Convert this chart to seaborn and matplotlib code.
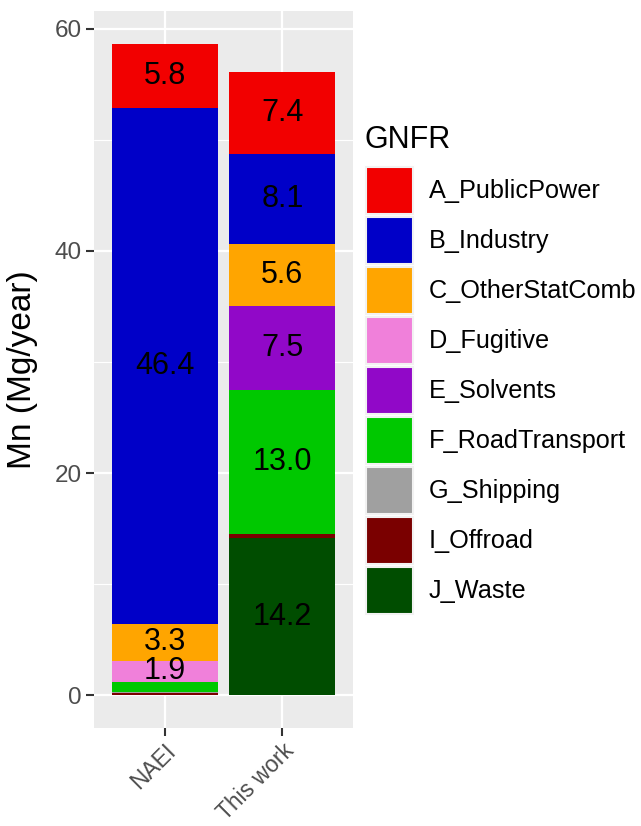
import numpy as np
import pandas as pd
import matplotlib
matplotlib.use("Agg")
import matplotlib.pyplot as plt
import seaborn as sns
from matplotlib.patches import Patch
from matplotlib.ticker import MultipleLocator

# ---- data ----
sources = ["NAEI", "This work"]
sectors = ["A_PublicPower", "B_Industry", "C_OtherStatComb", "D_Fugitive",
           "E_Solvents", "F_RoadTransport", "G_Shipping", "I_Offroad", "J_Waste"]
naei = [5.8, 46.4, 3.3, 1.9, 0.0, 0.9, 0.08, 0.25, 0.0]
this_work = [7.4, 8.1, 5.6, 0.0, 7.5, 13.0, 0.0, 0.3, 14.2]
colors = ["#F20000", "#0000C8", "#FFA500", "#F080DA", "#9108C8",
          "#00C800", "#A0A0A0", "#7A0000", "#004D00"]
y_ticks = [0, 20, 40, 60]

sns.set_theme(style="darkgrid", rc={"axes.facecolor": "#EBEBEB",
                                    "grid.color": "white"})
plt.rcParams['font.family'] = ['Liberation Sans', 'DejaVu Sans']

df = pd.DataFrame({
    "source": np.repeat(sources, len(sectors)),
    "GNFR": sectors * len(sources),
    "value": naei + this_work,
})

W, H = 641, 826
fig = plt.figure(figsize=(W / 100, H / 100), dpi=100)
ax = fig.add_axes([94 / W, 98 / H, 259 / W, 717 / H])

sns.histplot(data=df, x="source", weights="value", hue="GNFR",
             hue_order=sectors, palette=colors, multiple="stack",
             discrete=True, shrink=0.9, alpha=1, linewidth=0,
             legend=False, ax=ax)

# value labels (stack from bottom: last sector at bottom)
for i, vals in enumerate([naei, this_work]):
    base = 0.0
    for k in range(len(sectors) - 1, -1, -1):
        v = vals[k]
        if v >= 1.5:
            ax.text(i, base + v / 2, f"{v:.1f}", ha="center", va="center",
                    fontsize=22, color="black")
        base += v

ax.set_xlim(-0.6, 1.6)
ax.set_ylim(-2.93, 61.58)
ax.set_yticks(y_ticks)
ax.yaxis.set_minor_locator(MultipleLocator(10))
ax.grid(which="major", color="white", lw=1.6)
ax.grid(which="minor", axis="y", color="white", lw=0.8)
ax.grid(which="minor", axis="x", visible=False)
ax.set_axisbelow(True)
for s in ax.spines.values():
    s.set_visible(False)

ax.tick_params(axis="both", which="major", bottom=True, left=True,
               length=6, width=1.5, color="#333333", labelsize=17.5,
               labelcolor="#4D4D4D", pad=3)
ax.tick_params(axis="x", which="major", labelsize=16.5, pad=2)
ax.tick_params(axis="y", which="minor", length=0)
plt.setp(ax.get_xticklabels(), rotation=45, ha="right", va="top",
         rotation_mode="anchor")
ax.set_xlabel("")
ax.set_ylabel("Mn (Mg/year)", fontsize=24, color="black", labelpad=12)

# legend
handles = [Patch(facecolor=c, edgecolor="#F2F2F2", lw=1.5) for c in colors]
leg = fig.legend(handles, sectors, loc="upper left",
                 bbox_to_anchor=(366 / W, 1 - 167 / H), frameon=False,
                 fontsize=18.2, handlelength=1.87, handleheight=2.48,
                 labelspacing=0.12, handletextpad=0.62, borderpad=0,
                 borderaxespad=0)
for t in leg.get_texts():
    t.set_color("black")
fig.text(365 / W, 1 - 148 / H, "GNFR", fontsize=22, va="baseline",
         ha="left", color="black")

fig.savefig("out.png", dpi=100)
